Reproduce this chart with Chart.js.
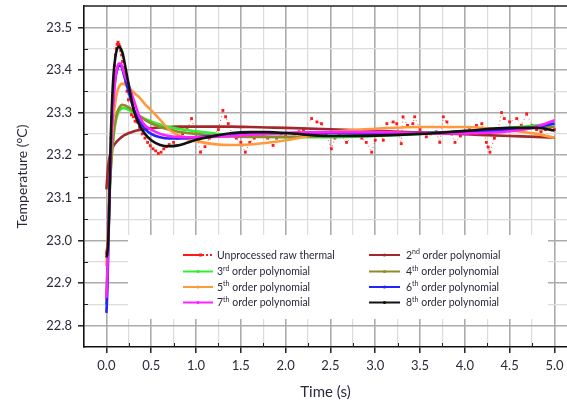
<!DOCTYPE html>
<html>
<head>
<meta charset="utf-8">
<script src="https://cdn.jsdelivr.net/npm/chart.js@4.4.0/dist/chart.umd.min.js"></script>
<style>
  html, body { margin: 0; padding: 0; background: #fff; overflow: hidden; }
  canvas { display: block; }
</style>
</head>
<body>
<canvas id="tempChart" width="567" height="404"></canvas>
<script>
// raw thermal samples (time s, temperature C)
const rawTime = [0.000, 0.005, 0.010, 0.015, 0.020, 0.025, 0.030, 0.035, 0.040, 0.045, 0.050, 0.060, 0.070, 0.080, 0.090, 0.100,
  0.110, 0.120, 0.130, 0.140, 0.150, 0.160, 0.170, 0.180, 0.190, 0.200, 0.215, 0.230, 0.245, 0.260, 0.280, 0.300,
  0.320, 0.340, 0.370, 0.400, 0.430, 0.460, 0.490, 0.520, 0.550, 0.580, 0.610, 0.640, 0.670, 0.70, 0.75, 0.80,
  0.85, 0.90, 0.95, 1.00, 1.05, 1.10, 1.15, 1.20, 1.25, 1.30, 1.33, 1.36, 1.40, 1.45, 1.50, 1.55,
  1.60, 1.65, 1.70, 1.75, 1.80, 1.86, 1.90, 1.95, 2.00, 2.05, 2.10, 2.15, 2.20, 2.29, 2.35, 2.40,
  2.45, 2.51, 2.55, 2.60, 2.68, 2.75, 2.80, 2.85, 2.90, 2.96, 3.00, 3.05, 3.09, 3.13, 3.20, 3.24,
  3.29, 3.31, 3.36, 3.42, 3.44, 3.50, 3.57, 3.62, 3.68, 3.72, 3.76, 3.80, 3.85, 3.89, 3.95, 4.00,
  4.05, 4.13, 4.19, 4.24, 4.26, 4.28, 4.33, 4.37, 4.41, 4.44, 4.50, 4.58, 4.63, 4.69, 4.75, 4.80,
  4.85, 4.90, 4.95, 5.00];
const rawTemp = [22.97, 22.975, 22.98, 22.99, 23.00, 23.04, 23.08, 23.12, 23.16, 23.20, 23.24, 23.29, 23.34, 23.38, 23.41, 23.435,
  23.45, 23.46, 23.465, 23.46, 23.455, 23.445, 23.435, 23.42, 23.405, 23.39, 23.37, 23.35, 23.33, 23.31, 23.295, 23.29,
  23.28, 23.278, 23.265, 23.25, 23.24, 23.23, 23.222, 23.215, 23.21, 23.204, 23.207, 23.215, 23.22, 23.225, 23.23, 23.24,
  23.25, 23.26, 23.286, 23.25, 23.207, 23.22, 23.24, 23.25, 23.26, 23.305, 23.29, 23.274, 23.25, 23.24, 23.23, 23.207,
  23.23, 23.24, 23.25, 23.245, 23.24, 23.223, 23.24, 23.25, 23.245, 23.24, 23.25, 23.255, 23.26, 23.286, 23.278, 23.274,
  23.25, 23.215, 23.24, 23.25, 23.23, 23.245, 23.25, 23.24, 23.23, 23.207, 23.235, 23.25, 23.235, 23.274, 23.278, 23.274,
  23.227, 23.29, 23.27, 23.274, 23.29, 23.26, 23.243, 23.25, 23.255, 23.23, 23.29, 23.278, 23.25, 23.23, 23.245, 23.255,
  23.26, 23.27, 23.274, 23.23, 23.219, 23.207, 23.24, 23.26, 23.30, 23.286, 23.278, 23.286, 23.27, 23.297, 23.27, 23.26,
  23.255, 23.26, 23.265, 23.26];

// polynomial fit curves, sampled at fitTime
const fitTime = [0, 0.01, 0.02, 0.03, 0.04, 0.05, 0.06, 0.08, 0.10, 0.12, 0.14, 0.16, 0.18, 0.20, 0.24, 0.28, 0.32, 0.37, 0.43,
  0.50, 0.60, 0.70, 0.80, 0.90, 1.0, 1.2, 1.4, 1.6, 1.8, 2.0, 2.5, 3.0, 3.5, 4.0, 4.5, 4.8, 5.0];
const poly2 = [23.12, 23.15, 23.175, 23.19, 23.20, 23.208, 23.214, 23.222, 23.228, 23.233, 23.237, 23.241, 23.244, 23.247, 23.251, 23.254, 23.257, 23.259, 23.261,
  23.263, 23.265, 23.266, 23.267, 23.267, 23.267, 23.267, 23.267, 23.266, 23.265, 23.264, 23.261, 23.257, 23.253, 23.249, 23.245, 23.243, 23.241];
const poly3 = [22.86, 22.93, 23.01, 23.08, 23.13, 23.17, 23.20, 23.245, 23.275, 23.293, 23.303, 23.308, 23.31, 23.31, 23.307, 23.303, 23.298, 23.292, 23.285,
  23.279, 23.272, 23.266, 23.262, 23.259, 23.256, 23.251, 23.247, 23.244, 23.243, 23.242, 23.242, 23.245, 23.25, 23.256, 23.264, 23.27, 23.274];
const poly4 = [22.85, 22.92, 23.00, 23.07, 23.13, 23.17, 23.20, 23.25, 23.28, 23.30, 23.31, 23.316, 23.318, 23.317, 23.313, 23.307, 23.30, 23.292, 23.283,
  23.275, 23.266, 23.26, 23.255, 23.252, 23.25, 23.246, 23.244, 23.243, 23.243, 23.243, 23.245, 23.248, 23.252, 23.256, 23.262, 23.265, 23.266];
const poly5 = [22.94, 22.98, 23.04, 23.10, 23.15, 23.20, 23.24, 23.29, 23.325, 23.348, 23.36, 23.366, 23.368, 23.367, 23.36, 23.352, 23.344, 23.335, 23.32,
  23.305, 23.283, 23.26, 23.247, 23.238, 23.233, 23.226, 23.224, 23.225, 23.229, 23.235, 23.254, 23.262, 23.266, 23.266, 23.258, 23.25, 23.241];
const poly6 = [22.83, 22.88, 22.97, 23.07, 23.15, 23.22, 23.27, 23.34, 23.38, 23.40, 23.41, 23.41, 23.40, 23.385, 23.355, 23.325, 23.30, 23.28, 23.262,
  23.25, 23.242, 23.239, 23.239, 23.24, 23.242, 23.245, 23.248, 23.25, 23.251, 23.252, 23.252, 23.251, 23.252, 23.255, 23.26, 23.266, 23.274];
const poly7 = [22.865, 22.92, 23.00, 23.08, 23.15, 23.21, 23.26, 23.33, 23.38, 23.405, 23.415, 23.415, 23.405, 23.39, 23.37, 23.345, 23.32, 23.29, 23.27,
  23.26, 23.25, 23.245, 23.243, 23.242, 23.242, 23.243, 23.245, 23.248, 23.25, 23.252, 23.254, 23.254, 23.252, 23.251, 23.256, 23.267, 23.282];
const poly8 = [22.96, 22.97, 23.00, 23.06, 23.16, 23.25, 23.31, 23.39, 23.43, 23.45, 23.455, 23.45, 23.44, 23.42, 23.375, 23.33, 23.295, 23.27, 23.25,
  23.235, 23.224, 23.221, 23.223, 23.229, 23.236, 23.245, 23.252, 23.254, 23.254, 23.252, 23.245, 23.246, 23.25, 23.257, 23.264, 23.264, 23.258];

const xTickValues = [0, 0.25, 0.5, 0.75, 1.0, 1.25, 1.5, 1.75, 2.0, 2.25, 2.5, 2.75, 3.0, 3.25, 3.5, 3.75, 4.0, 4.25, 4.5, 4.75, 5.0];
const yTickValues = [22.8, 22.85, 22.9, 22.95, 23.0, 23.05, 23.1, 23.15, 23.2, 23.25, 23.3, 23.35, 23.4, 23.45, 23.5];

const seriesNames = ['Unprocessed raw thermal', '2nd order polynomial', '3rd order polynomial', '4th order polynomial',
  '5th order polynomial', '6th order polynomial', '7th order polynomial', '8th order polynomial'];
const seriesColors = ['#ff1a1a', '#a4282a', '#33ee33', '#8f8a2a', '#ff9a3c', '#2323ff', '#ff22ff', '#111111'];

const FONT = 'Lato, "Open Sans", sans-serif';
const isMajor = (v, step) => Math.abs(v / step - Math.round(v / step)) < 1e-6;
const pts = (ts, vs) => ts.map((t, i) => ({ x: t, y: vs[i] }));

const fits = [poly2, poly3, poly4, poly5, poly6, poly7, poly8];
const datasets = [{
  label: seriesNames[0],
  data: pts(rawTime, rawTemp),
  showLine: true,
  borderColor: 'rgba(255,30,30,0.8)',
  backgroundColor: seriesColors[0],
  borderWidth: 1,
  borderDash: [1, 3],
  pointStyle: 'rect',
  pointRadius: 2,
  pointBorderWidth: 0,
  order: 9
}];
fits.forEach((vals, i) => {
  datasets.push({
    label: seriesNames[i + 1],
    data: pts(fitTime, vals),
    showLine: true,
    borderColor: seriesColors[i + 1],
    backgroundColor: seriesColors[i + 1],
    borderWidth: 2.6,
    pointRadius: 0,
    cubicInterpolationMode: 'monotone',
    order: 8 - i
  });
});

// frame extras: top border, inward minor ticks, white legend box
const frame = {
  id: 'frame',
  beforeDatasetsDraw(chart) {
    const { ctx } = chart;
    ctx.save();
    ctx.fillStyle = '#fff';
    ctx.fillRect(128, 235, 420, 84);
    ctx.restore();
  },
  afterDraw(chart) {
    const { ctx, chartArea: a, scales: { x, y } } = chart;
    ctx.save();
    ctx.strokeStyle = '#222';
    ctx.lineWidth = 1;
    ctx.beginPath();
    xTickValues.forEach(v => {
      if (isMajor(v, 0.5)) return;
      const px = Math.round(x.getPixelForValue(v)) + 0.5;
      ctx.moveTo(px, a.bottom);
      ctx.lineTo(px, a.bottom - 4);
    });
    yTickValues.forEach(v => {
      if (isMajor(v, 0.1)) return;
      const py = Math.round(y.getPixelForValue(v)) + 0.5;
      ctx.moveTo(a.left, py);
      ctx.lineTo(a.left + 4, py);
    });
    ctx.stroke();
    ctx.lineWidth = 1.6;
    ctx.beginPath();
    ctx.moveTo(a.left - 1, a.top);
    ctx.lineTo(chart.width, a.top);
    ctx.stroke();

    // legend
    const rowY = [255, 271.5, 287, 302.5];
    const cols = [{ x0: 183, x1: 213, tx: 217 }, { x0: 369, x1: 400, tx: 406 }];
    const layout = [[0, 0, 0], [1, 1, 0], [2, 0, 1], [3, 1, 1], [4, 0, 2], [5, 1, 2], [6, 0, 3], [7, 1, 3]];
    layout.forEach(([si, c, r]) => {
      const col = cols[c];
      const yy = rowY[r];
      const color = seriesColors[si];
      ctx.strokeStyle = color;
      ctx.fillStyle = color;
      ctx.lineWidth = 2;
      ctx.setLineDash([]);
      ctx.beginPath();
      if (si === 0) {
        ctx.moveTo(col.x0, yy); ctx.lineTo(col.x0 + 17, yy); ctx.stroke();
        ctx.setLineDash([2, 2]);
        ctx.beginPath(); ctx.moveTo(col.x0 + 19, yy); ctx.lineTo(col.x1, yy); ctx.stroke();
        ctx.setLineDash([]);
        ctx.fillRect(col.x0 + 16, yy - 1.5, 3, 3);
      } else {
        ctx.moveTo(col.x0, yy); ctx.lineTo(col.x1, yy); ctx.stroke();
        ctx.beginPath(); ctx.arc((col.x0 + col.x1) / 2, yy, 1.6, 0, Math.PI * 2); ctx.fill();
      }
      ctx.fillStyle = '#2a2a3a';
      ctx.textBaseline = 'middle';
      ctx.textAlign = 'left';
      const name = seriesNames[si];
      const m = name.match(/^(\d)(st|nd|rd|th)( .*)$/);
      if (m) {
        ctx.font = '10.5px ' + FONT;
        let tx = col.tx;
        ctx.fillText(m[1], tx, yy + 0.5);
        tx += ctx.measureText(m[1]).width;
        ctx.font = '7px ' + FONT;
        ctx.fillText(m[2], tx, yy - 3);
        tx += ctx.measureText(m[2]).width;
        ctx.font = '10.5px ' + FONT;
        ctx.fillText(m[3], tx, yy + 0.5);
      } else {
        ctx.font = '10.5px ' + FONT;
        ctx.fillText(name, col.tx, yy + 0.5);
      }
    });
    ctx.restore();
  }
};

const ctx = document.getElementById('tempChart').getContext('2d');

const tempChart = new Chart(ctx, {
  type: 'scatter',
  data: { datasets },
  plugins: [frame],
  options: {
    responsive: false,
    animation: false,
    layout: { autoPadding: false, padding: { top: 6, right: 0, left: 0, bottom: 0 } },
    plugins: {
      legend: { display: false },
      tooltip: { enabled: false }
    },
    scales: {
      x: {
        type: 'linear',
        min: -0.25,
        max: 5.14,
        afterBuildTicks: (scale) => { scale.ticks = xTickValues.map(v => ({ value: v })); },
        afterFit: (scale) => {
          scale.height = 57;
          scale.paddingLeft = 0; scale.paddingRight = 0;
        },
        ticks: {
          autoSkip: false,
          maxRotation: 0,
          padding: 5,
          color: '#2a2a3a',
          font: { family: FONT, size: 13 },
          callback: (v) => isMajor(v, 0.5) ? v.toFixed(1) : ''
        },
        grid: {
          color: (c) => isMajor(c.tick.value, 0.5) ? '#ababab' : '#dcdcdc',
          lineWidth: (c) => isMajor(c.tick.value, 0.5) ? 1.6 : 1.2,
          tickColor: (c) => isMajor(c.tick.value, 0.5) ? '#111' : 'rgba(0,0,0,0)',
          tickWidth: 1.4,
          tickLength: 6
        },
        border: { display: true, color: '#111', width: 1.6 },
        title: {
          display: true,
          text: 'Time (s)',
          color: '#2a2a3a',
          font: { family: FONT, size: 15 },
          padding: { top: 0, bottom: 3 }
        }
      },
      y: {
        type: 'linear',
        min: 22.75,
        max: 23.55,
        afterBuildTicks: (scale) => { scale.ticks = yTickValues.map(v => ({ value: v })); },
        afterFit: (scale) => {
          scale.width = 84;
          scale.paddingTop = 0; scale.paddingBottom = 0;
        },
        ticks: {
          autoSkip: false,
          padding: 6,
          color: '#2a2a3a',
          font: { family: FONT, size: 13 },
          callback: (v) => isMajor(v, 0.1) ? v.toFixed(1) : ''
        },
        grid: {
          color: (c) => isMajor(c.tick.value, 0.1) ? '#ababab' : '#dcdcdc',
          lineWidth: (c) => isMajor(c.tick.value, 0.1) ? 1.6 : 1.2,
          tickColor: (c) => isMajor(c.tick.value, 0.1) ? '#111' : 'rgba(0,0,0,0)',
          tickWidth: 1.4,
          tickLength: 6
        },
        border: { display: true, color: '#111', width: 1.6 },
        title: {
          display: true,
          text: 'Temperature (°C)',
          color: '#2a2a3a',
          font: { family: FONT, size: 14 },
          padding: { top: 14, bottom: 0 }
        }
      }
    }
  }
});
</script>
</body>
</html>
